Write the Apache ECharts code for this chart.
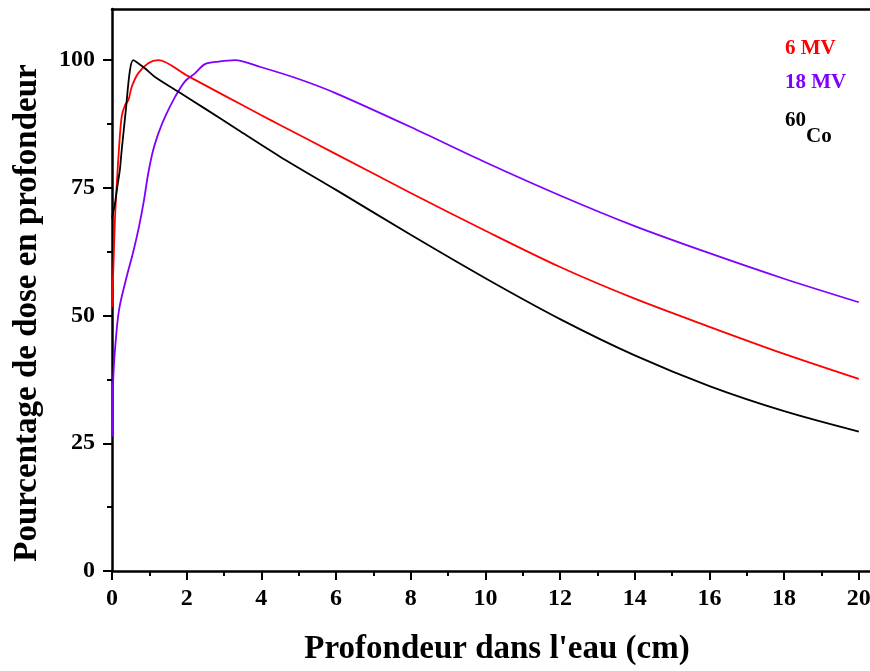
<!DOCTYPE html>
<html>
<head>
<meta charset="utf-8">
<script src="https://cdn.jsdelivr.net/npm/echarts@6/dist/echarts.min.js"></script>
<style>
html,body{margin:0;padding:0;background:#fff;}
#chart{width:870px;height:671px;}
</style>
</head>
<body>
<div id="chart"></div>
<script>
// ---- data ----
const mv6X = [0, 0.04, 0.08, 0.13, 0.19, 0.26, 0.35, 0.44, 0.53, 0.7, 0.97, 1.24, 2.0, 3.0, 4.0, 4.5, 6, 8, 10, 12, 14, 16, 18, 20];
const mv6Y = [51.7, 60, 69, 76, 83, 89, 91.2, 92.2, 94.8, 97.4, 99.4, 100, 97.0, 93.1, 89.2, 87.3, 81.6, 74.0, 66.6, 59.5, 53.3, 47.8, 42.5, 37.6];

const mv18X = [0, 0.035, 0.125, 0.21, 0.4, 0.57, 0.72, 0.85, 0.97, 1.1, 1.25, 1.42, 1.69, 1.95, 2.22, 2.49, 2.85, 3.29, 4, 5, 6, 8, 10, 12, 14, 16, 18, 20];
const mv18Y = [26.3, 38, 47.2, 52, 57.8, 62.5, 67.3, 72.3, 77.8, 82.3, 85.8, 88.9, 92.8, 95.8, 97.4, 99.2, 99.7, 100, 98.6, 96.3, 93.5, 86.9, 80.0, 73.5, 67.5, 62.2, 57.2, 52.6];

const co60X = [0, 0.08, 0.13, 0.21, 0.26, 0.37, 0.48, 0.57, 0.7, 0.88, 1.15, 1.78, 2.49, 3.38, 4.5, 6, 8, 10, 12, 14, 16, 18, 20];
const co60Y = [69, 72, 74.6, 78.5, 82.4, 90.2, 98, 100, 99.4, 98.4, 96.7, 93.8, 90.5, 86.3, 81.1, 74.6, 65.8, 57.3, 49.3, 42.2, 36.2, 31.3, 27.3];

const yTicks = [0, 25, 50, 75, 100];
const yMinorTicks = [12.5, 37.5, 62.5, 87.5];
const xTicks = [0, 2, 4, 6, 8, 10, 12, 14, 16, 18, 20];
const xMinorTicks = [1, 3, 5, 7, 9, 11, 13, 15, 17, 19];

const xTitle = 'Profondeur dans l\'eau (cm)';
const yTitle = 'Pourcentage de dose en profondeur';
const seriesNames = ['6 MV', '18 MV', '60Co'];
const seriesColors = ['#ff0000', '#8000ff', '#000000'];

// ---- build ----
function zip(xs, ys) { return xs.map((x, i) => [x, ys[i]]); }
const FONT = '"Liberation Serif", "Times New Roman", serif';

const chart = echarts.init(document.getElementById('chart'), null, {renderer: 'canvas'});

const mkSeries = (name, xs, ys, color) => ({
  name: name,
  type: 'line',
  data: zip(xs, ys),
  showSymbol: false,
  symbol: 'none',
  smooth: 0.3,
  lineStyle: {color: color, width: 1.8},
  itemStyle: {color: color},
  xAxisIndex: 0,
  yAxisIndex: 0,
  z: 3
});

const tickStyle = {color: '#000', width: 2};
const XMAX = 20.3;

const option = {
  animation: false,
  backgroundColor: '#ffffff',
  grid: {left: 112, right: 0, top: 9, bottom: 100, containLabel: false, outerBoundsMode: 'none'},
  xAxis: [{
    type: 'value', min: 0, max: XMAX, position: 'bottom',
    axisLine: {show: true, onZero: false, lineStyle: {color: '#000', width: 2.5}},
    axisTick: {show: true, inside: false, length: 9, customValues: xTicks, lineStyle: tickStyle},
    axisLabel: {customValues: xTicks, fontFamily: FONT, fontWeight: 'bold', fontSize: 24, color: '#000', margin: 16},
    splitLine: {show: false}
  }, {
    type: 'value', min: 0, max: XMAX, position: 'bottom', offset: 0,
    axisLine: {show: false},
    axisTick: {show: true, inside: false, length: 5, customValues: xMinorTicks, lineStyle: tickStyle},
    axisLabel: {show: false},
    splitLine: {show: false}
  }, {
    type: 'value', min: 0, max: XMAX, position: 'top', offset: 0,
    axisLine: {show: true, onZero: false, lineStyle: {color: '#000', width: 2.5}},
    axisTick: {show: false},
    axisLabel: {show: false},
    splitLine: {show: false}
  }],
  yAxis: [{
    type: 'value', min: 0, max: 110, position: 'left',
    axisLine: {show: true, onZero: false, lineStyle: {color: '#000', width: 2.5}},
    axisTick: {show: true, inside: false, length: 9, customValues: yTicks, lineStyle: tickStyle},
    axisLabel: {customValues: yTicks, fontFamily: FONT, fontWeight: 'bold', fontSize: 24, color: '#000', margin: 17},
    splitLine: {show: false}
  }, {
    type: 'value', min: 0, max: 110, position: 'left', offset: 0,
    axisLine: {show: false},
    axisTick: {show: true, inside: false, length: 5, customValues: yMinorTicks, lineStyle: tickStyle},
    axisLabel: {show: false},
    splitLine: {show: false}
  }],
  graphic: [
    {type: 'text', x: 497, y: 649, z: 10,
     style: {text: xTitle, font: 'bold 33px ' + FONT, fill: '#000', align: 'center', verticalAlign: 'middle'}},
    {type: 'text', x: 27, y: 313, rotation: Math.PI / 2, z: 10,
     style: {text: yTitle, font: 'bold 33px ' + FONT, fill: '#000', align: 'center', verticalAlign: 'middle'}},
    {type: 'text', left: 785, top: 38, z: 10,
     style: {text: seriesNames[0], font: 'bold 21px ' + FONT, fill: seriesColors[0]}},
    {type: 'text', left: 785, top: 72, z: 10,
     style: {text: seriesNames[1], font: 'bold 21px ' + FONT, fill: seriesColors[1]}},
    {type: 'text', left: 785, top: 110, z: 10,
     style: {text: '{sup|60}{base|Co}', fill: seriesColors[2],
       rich: {
         sup: {font: 'bold 21px ' + FONT, fill: '#000', verticalAlign: 'top', padding: [0, 0, 16, 0]},
         base: {font: 'bold 21px ' + FONT, fill: '#000', padding: [16, 0, 0, 0]}
       }}}
  ],
  series: [
    mkSeries(seriesNames[0], mv6X, mv6Y, seriesColors[0]),
    mkSeries(seriesNames[1], mv18X, mv18Y, seriesColors[1]),
    mkSeries(seriesNames[2], co60X, co60Y, seriesColors[2])
  ]
};
chart.setOption(option);
</script>
</body>
</html>
